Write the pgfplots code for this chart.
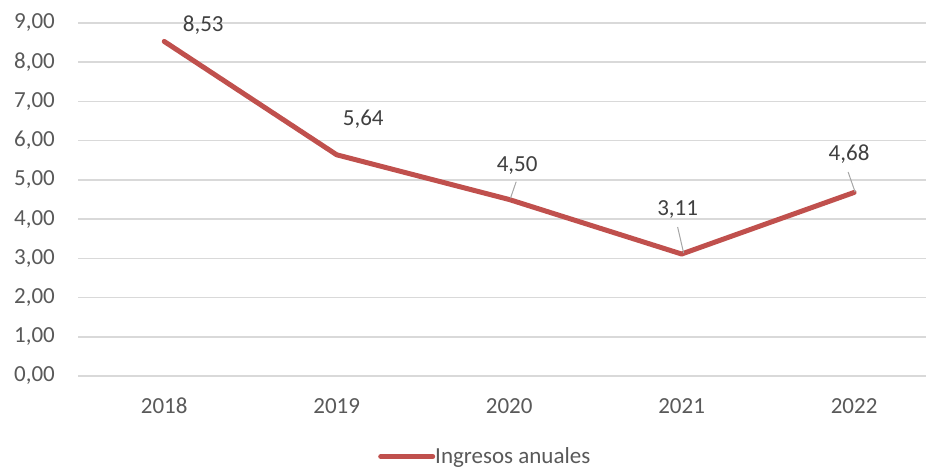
\documentclass[border=0pt]{standalone}
\usepackage{fontspec}
\setmainfont{Carlito}
\usepackage{pgfplots}
\pgfplotsset{compat=1.18}
\definecolor{linered}{RGB}{192,80,77}
\definecolor{gridgray}{RGB}{217,217,217}
\definecolor{txtgray}{RGB}{89,89,89}
\definecolor{lblgray}{RGB}{64,64,64}
\definecolor{leadgray}{RGB}{166,166,166}
\begin{document}
\begin{tikzpicture}[x=1pt,y=1pt]
\useasboundingbox (0,0) rectangle (926,469);
\begin{axis}[
  at={(78pt,93pt)}, anchor=south west,
  scale only axis, width=848pt, height=353pt,
  xmin=-0.5, xmax=4.417, ymin=0, ymax=9,
  xtick={0,1,2,3,4}, xticklabels={2018,2019,2020,2021,2022},
  ytick={0,1,2,3,4,5,6,7,8,9},
  axis line style={draw=none},
  major tick length=0pt,
  ymajorgrids, grid style={gridgray, line width=1.5pt},
  /pgf/number format/assume math mode=true,
  tick label style={font=\fontsize{23}{27}\selectfont, text=txtgray, inner sep=0pt},
  yticklabel style={anchor=east, xshift=-23pt, /pgf/number format/.cd, fixed, fixed zerofill, precision=2, use comma},
  xticklabel style={anchor=north, yshift=-22pt},
  legend style={at={(0.3538,-0.2281)}, anchor=west, draw=none, fill=none, inner sep=0pt,
    font=\fontsize{23}{27}\selectfont, text=txtgray, nodes={inner sep=0pt},
    /tikz/every even column/.append style={column sep=4pt}},
  legend image code/.code={\draw[#1, line cap=round] (2pt,0pt) -- (54pt,0pt);},
  clip=false,
]
\addplot[linered, line width=5pt, line join=round, line cap=round]
  coordinates {(0,8.53) (1,5.64) (2,4.50) (3,3.11) (4,4.68)};
\addlegendentry{Ingresos anuales}
\begin{scope}[every node/.style={anchor=base, inner sep=0pt, text=lblgray, font=\fontsize{23}{27}\selectfont}]
\node[xshift=39pt, yshift=9.7pt] at (axis cs:0,8.53) {8,53};
\node[xshift=26.5pt, yshift=28.8pt] at (axis cs:1,5.64) {5,64};
\node[xshift=8pt, yshift=28.5pt] at (axis cs:2,4.50) {4,50};
\node[xshift=-4pt, yshift=38.3pt] at (axis cs:3,3.11) {3,11};
\node[xshift=-5pt, yshift=31.8pt] at (axis cs:4,4.68) {4,68};
\end{scope}
\draw[leadgray, line width=1pt] ([xshift=1.3pt,yshift=1.2pt]axis cs:2,4.50) -- ([xshift=7pt,yshift=17.8pt]axis cs:2,4.50);
\draw[leadgray, line width=1pt] ([xshift=2pt,yshift=1pt]axis cs:3,3.11) -- ([xshift=-4pt,yshift=27pt]axis cs:3,3.11);
\draw[leadgray, line width=1pt] ([xshift=1pt,yshift=0.5pt]axis cs:4,4.68) -- ([xshift=-6pt,yshift=20.5pt]axis cs:4,4.68);
\end{axis}
\end{tikzpicture}
\end{document}
